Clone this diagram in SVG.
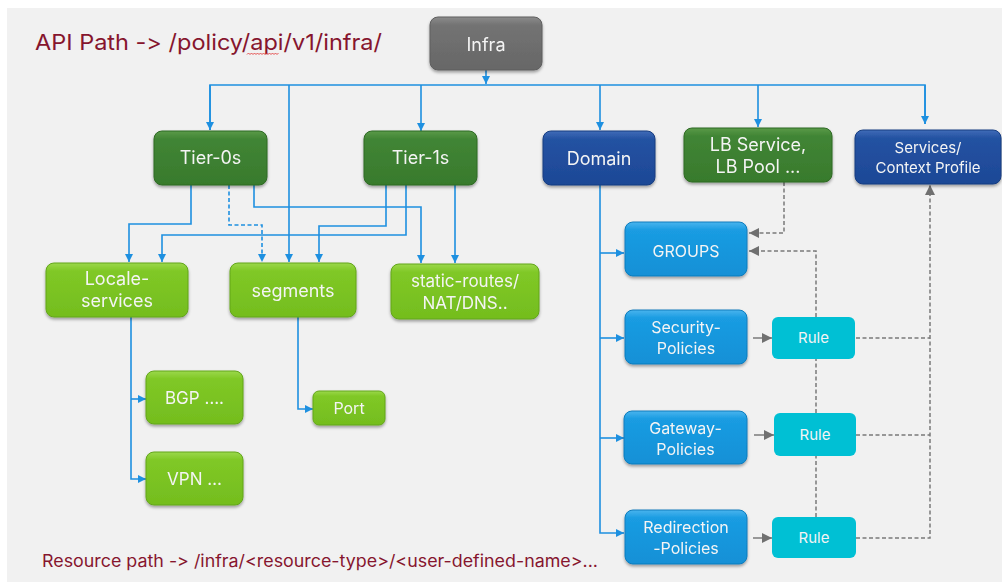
<svg xmlns="http://www.w3.org/2000/svg" width="1002" height="582" viewBox="0 0 1002 582">
  <defs>
    <style>
      .lbl { font-family: Inter, "Noto Sans", "Liberation Sans", sans-serif; fill: #f4f4f4; text-anchor: middle; font-feature-settings: "calt" 0, "liga" 0; }
      .cap { font-family: Inter, "Noto Sans", "Liberation Sans", sans-serif; fill: #86152e; font-feature-settings: "calt" 0, "liga" 0; font-variant-ligatures: none; }
      .box { filter: url(#shadow); }
      .blue { fill: none; stroke: #1e90e0; stroke-width: 1.6; }
      .gdash { fill: none; stroke: #7a7a7a; stroke-width: 1.5; stroke-dasharray: 4 2.5; }
      .garrow { fill: none; stroke: #7a7a7a; stroke-width: 1.5; }
    </style>
    <filter id="shadow" x="-10%" y="-10%" width="120%" height="140%">
      <feDropShadow dx="0" dy="2" stdDeviation="1.4" flood-color="#000" flood-opacity="0.35"/>
    </filter>
    <linearGradient id="gGray" x1="0" y1="0" x2="0" y2="1">
      <stop offset="0" stop-color="#8c8c8c"/>
      <stop offset="0.15" stop-color="#737373"/>
      <stop offset="1" stop-color="#676767"/>
    </linearGradient>
    <linearGradient id="gDark" x1="0" y1="0" x2="0" y2="1">
      <stop offset="0" stop-color="#5a9a48"/>
      <stop offset="0.15" stop-color="#418535"/>
      <stop offset="1" stop-color="#387a2c"/>
    </linearGradient>
    <linearGradient id="gLight" x1="0" y1="0" x2="0" y2="1">
      <stop offset="0" stop-color="#9bd84a"/>
      <stop offset="0.15" stop-color="#80c826"/>
      <stop offset="1" stop-color="#74bd1e"/>
    </linearGradient>
    <linearGradient id="gNavy" x1="0" y1="0" x2="0" y2="1">
      <stop offset="0" stop-color="#3f6cb8"/>
      <stop offset="0.15" stop-color="#2452a2"/>
      <stop offset="1" stop-color="#1d4896"/>
    </linearGradient>
    <linearGradient id="gBlue" x1="0" y1="0" x2="0" y2="1">
      <stop offset="0" stop-color="#4ab4ee"/>
      <stop offset="0.15" stop-color="#1a9ce2"/>
      <stop offset="1" stop-color="#1290d6"/>
    </linearGradient>
    <marker id="ab" viewBox="0 0 8 8" refX="8" refY="4" markerWidth="8" markerHeight="8" markerUnits="userSpaceOnUse" orient="auto">
      <path d="M0,0 L8,4 L0,8 z" fill="#1e90e0"/>
    </marker>
    <marker id="ag" viewBox="0 0 10 10" refX="10" refY="5" markerWidth="10" markerHeight="10" markerUnits="userSpaceOnUse" orient="auto">
      <path d="M0,0 L10,5 L0,10 z" fill="#707070"/>
    </marker>
  </defs>

  <!-- canvas -->
  <rect x="0" y="0" width="1002" height="582" fill="#ffffff"/>
  <rect x="7" y="8" width="995" height="574" fill="#f1f1f1"/>

  <!-- captions -->
  <text class="cap" x="35" y="50" font-size="22" textLength="347" lengthAdjust="spacingAndGlyphs">API Path -&gt; /policy/api/v1/infra/</text>
  <!-- spell-check squiggle under "api" -->
  <path d="M247,54.5 l1.5,-1.5 l1.5,1.5 l1.5,-1.5 l1.5,1.5 l1.5,-1.5 l1.5,1.5 l1.5,-1.5 l1.5,1.5 l1.5,-1.5 l1.5,1.5 l1.5,-1.5 l1.5,1.5 l1.5,-1.5 l1.5,1.5 l1.5,-1.5 l1.5,1.5 l1.5,-1.5 l1.5,1.5 l1.5,-1.5 l1.5,1.5 l1.5,-1.5" fill="none" stroke="#e02828" stroke-width="0.8"/>
  <text class="cap" x="42" y="567" font-size="17" textLength="556" lengthAdjust="spacingAndGlyphs">Resource path -&gt;  /infra/&lt;resource-type&gt;/&lt;user-defined-name&gt;...</text>

  <!-- connectors -->
  <g id="connectors">
    <!-- Infra fan-out -->
    <path class="blue" d="M486,70 V84" marker-end="url(#ab)"/>
    <path class="blue" d="M210,130 V85 H925 V124"/>
    <path class="blue" d="M210,85 V130" marker-end="url(#ab)"/>
    <path class="blue" d="M289,85 V262" marker-end="url(#ab)"/>
    <path class="blue" d="M421,85 V131" marker-end="url(#ab)"/>
    <path class="blue" d="M600,85 V130" marker-end="url(#ab)"/>
    <path class="blue" d="M758,85 V127" marker-end="url(#ab)"/>
    <path class="blue" d="M925,85 V124" marker-end="url(#ab)"/>

    <!-- Tier-0s children -->
    <path class="blue" d="M191,185 V224 H129 V262" marker-end="url(#ab)"/>
    <path class="blue" d="M229,185 V225 H262 V262" stroke-dasharray="4 2.5" marker-end="url(#ab)"/>
    <path class="blue" d="M254,185 V207 H421 V263" marker-end="url(#ab)"/>

    <!-- Tier-1s children -->
    <path class="blue" d="M386,185 V226 H319 V262" marker-end="url(#ab)"/>
    <path class="blue" d="M406,185 V235 H162 V262" marker-end="url(#ab)"/>
    <path class="blue" d="M455,185 V263" marker-end="url(#ab)"/>

    <!-- Locale-services children -->
    <path class="blue" d="M131,317 V479 H146" marker-end="url(#ab)"/>
    <path class="blue" d="M131,399 H146" marker-end="url(#ab)"/>

    <!-- segments child -->
    <path class="blue" d="M298,317 V409 H313" marker-end="url(#ab)"/>

    <!-- Domain children -->
    <path class="blue" d="M600,185 V533 H624" marker-end="url(#ab)"/>
    <path class="blue" d="M600,253 H624" marker-end="url(#ab)"/>
    <path class="blue" d="M600,338 H624" marker-end="url(#ab)"/>
    <path class="blue" d="M600,438 H624" marker-end="url(#ab)"/>

    <!-- policies to rules -->
    <path class="garrow" d="M753,338 H772" marker-end="url(#ag)"/>
    <path class="garrow" d="M754,435 H774" marker-end="url(#ag)"/>
    <path class="garrow" d="M753,538 H772" marker-end="url(#ag)"/>

    <!-- references to GROUPS -->
    <path class="gdash" d="M784,182 V233 H749" marker-end="url(#ag)"/>
    <path class="gdash" d="M816,317 V251 H749" marker-end="url(#ag)"/>
    <path class="gdash" d="M816,413 V359"/>
    <path class="gdash" d="M816,517 V456"/>

    <!-- references to Services/Context Profile -->
    <path class="gdash" d="M856,338 H930"/>
    <path class="gdash" d="M856,435 H930"/>
    <path class="gdash" d="M856,538 H930 V185" marker-end="url(#ag)"/>
  </g>

  <!-- nodes -->
  <g id="infra" class="box">
    <rect x="430" y="17" width="112" height="53" rx="8" fill="url(#gGray)" stroke="#5e5e5e" stroke-width="1"/>
    <text class="lbl" x="486" y="51" font-size="18">Infra</text>
  </g>

  <g id="tier0" class="box">
    <rect x="154" y="131" width="113" height="54" rx="8" fill="url(#gDark)" stroke="#2f6a24" stroke-width="1"/>
    <text class="lbl" x="210.5" y="164" font-size="18">Tier-0s</text>
  </g>
  <g id="tier1" class="box">
    <rect x="364" y="131" width="113" height="54" rx="8" fill="url(#gDark)" stroke="#2f6a24" stroke-width="1"/>
    <text class="lbl" x="420.5" y="164" font-size="18">Tier-1s</text>
  </g>
  <g id="domain" class="box">
    <rect x="543" y="131" width="112" height="54" rx="8" fill="url(#gNavy)" stroke="#173c80" stroke-width="1"/>
    <text class="lbl" x="599" y="165" font-size="18">Domain</text>
  </g>
  <g id="lb-service" class="box">
    <rect x="684" y="128" width="148" height="54" rx="8" fill="url(#gDark)" stroke="#2f6a24" stroke-width="1"/>
    <text class="lbl" x="758" y="151" font-size="18">LB Service,</text>
    <text class="lbl" x="758" y="173" font-size="18">LB Pool ...</text>
  </g>
  <g id="services-context" class="box">
    <rect x="855" y="130" width="146" height="54" rx="8" fill="url(#gNavy)" stroke="#173c80" stroke-width="1"/>
    <text class="lbl" x="928" y="153" font-size="15">Services/</text>
    <text class="lbl" x="928" y="173" font-size="15">Context Profile</text>
  </g>

  <g id="locale-services" class="box">
    <rect x="46" y="263" width="142" height="54" rx="8" fill="url(#gLight)" stroke="#63a61a" stroke-width="1"/>
    <text class="lbl" x="117" y="285" font-size="18">Locale-</text>
    <text class="lbl" x="117" y="307" font-size="18">services</text>
  </g>
  <g id="segments" class="box">
    <rect x="230" y="263" width="126" height="54" rx="8" fill="url(#gLight)" stroke="#63a61a" stroke-width="1"/>
    <text class="lbl" x="293" y="297" font-size="18">segments</text>
  </g>
  <g id="static-routes" class="box">
    <rect x="391" y="264" width="148" height="55" rx="8" fill="url(#gLight)" stroke="#63a61a" stroke-width="1"/>
    <text class="lbl" x="465" y="287" font-size="17">static-routes/</text>
    <text class="lbl" x="465" y="309" font-size="17">NAT/DNS..</text>
  </g>

  <g id="bgp" class="box">
    <rect x="146" y="371" width="97" height="53" rx="8" fill="url(#gLight)" stroke="#63a61a" stroke-width="1"/>
    <text class="lbl" x="194.5" y="404" font-size="17">BGP ….</text>
  </g>
  <g id="vpn" class="box">
    <rect x="146" y="452" width="97" height="53" rx="8" fill="url(#gLight)" stroke="#63a61a" stroke-width="1"/>
    <text class="lbl" x="194.5" y="485" font-size="17">VPN …</text>
  </g>
  <g id="port" class="box">
    <rect x="313" y="391" width="72" height="34" rx="6" fill="url(#gLight)" stroke="#63a61a" stroke-width="1"/>
    <text class="lbl" x="349" y="414" font-size="16">Port</text>
  </g>

  <g id="groups" class="box">
    <rect x="625" y="222" width="122" height="54" rx="8" fill="url(#gBlue)" stroke="#0f7cbd" stroke-width="1"/>
    <text class="lbl" x="686" y="257" font-size="16">GROUPS</text>
  </g>
  <g id="security-policies" class="box">
    <rect x="625" y="310" width="122" height="54" rx="8" fill="url(#gBlue)" stroke="#0f7cbd" stroke-width="1"/>
    <text class="lbl" x="686" y="333" font-size="16">Security-</text>
    <text class="lbl" x="686" y="354" font-size="16">Policies</text>
  </g>
  <g id="gateway-policies" class="box">
    <rect x="624" y="411" width="123" height="53" rx="8" fill="url(#gBlue)" stroke="#0f7cbd" stroke-width="1"/>
    <text class="lbl" x="685.5" y="434" font-size="16">Gateway-</text>
    <text class="lbl" x="685.5" y="455" font-size="16">Policies</text>
  </g>
  <g id="redirection-policies" class="box">
    <rect x="625" y="510" width="122" height="54" rx="8" fill="url(#gBlue)" stroke="#0f7cbd" stroke-width="1"/>
    <text class="lbl" x="686" y="533" font-size="16">Redirection</text>
    <text class="lbl" x="686" y="554" font-size="16">-Policies</text>
  </g>

  <g id="rule-security">
    <rect x="772" y="317" width="83" height="42" rx="6" fill="#00c0d4"/>
    <text class="lbl" x="813.5" y="343" font-size="15">Rule</text>
  </g>
  <g id="rule-gateway">
    <rect x="774" y="413" width="82" height="43" rx="6" fill="#00c0d4"/>
    <text class="lbl" x="815" y="440" font-size="15">Rule</text>
  </g>
  <g id="rule-redirection">
    <rect x="772" y="517" width="84" height="41" rx="6" fill="#00c0d4"/>
    <text class="lbl" x="814" y="543" font-size="15">Rule</text>
  </g>
</svg>
